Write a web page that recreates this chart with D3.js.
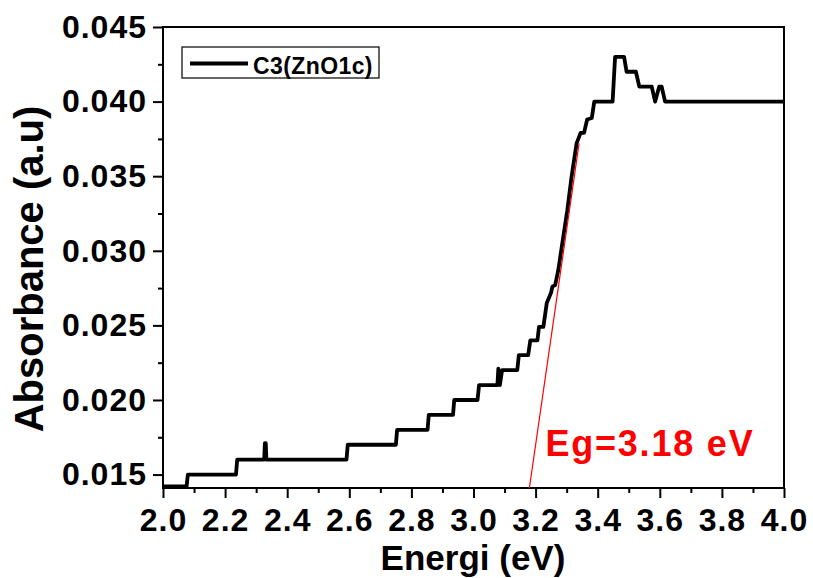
<!DOCTYPE html>
<html>
<head>
<meta charset="utf-8">
<script src="https://cdn.jsdelivr.net/npm/d3@7/dist/d3.min.js"></script>
<style>
  html, body { margin: 0; padding: 0; background: #fff; }
  svg { display: block; font-family: "Liberation Sans", Arial, Helvetica, sans-serif; font-weight: bold; }
</style>
</head>
<body>
<svg id="chart" width="813" height="578"></svg>
<script>
// Absorbance spectrum of sample C3(ZnO1c), step-like recorded trace
const energy = [
  2.000, 2.076, 2.080, 2.235, 2.239, 2.326, 2.328, 2.331, 2.333, 2.591, 2.595,
  2.750, 2.754, 2.852, 2.856, 2.934, 2.938, 3.013, 3.018, 3.077, 3.080, 3.085,
  3.092, 3.141, 3.146, 3.176, 3.183, 3.206, 3.211, 3.225, 3.236, 3.250, 3.254,
  3.263, 3.273, 3.286, 3.302, 3.316, 3.332, 3.345, 3.356, 3.366, 3.381, 3.389,
  3.448, 3.456, 3.485, 3.493, 3.523, 3.534, 3.574, 3.585, 3.598, 3.606, 3.617,
  4.000
];
const absorbance = [
  0.0142, 0.0142, 0.0150, 0.0150, 0.0160, 0.0160, 0.0171, 0.0171, 0.0160, 0.0160, 0.0170,
  0.0170, 0.0180, 0.0180, 0.0190, 0.0190, 0.0200, 0.0200, 0.0210, 0.0210, 0.0221, 0.0210,
  0.0220, 0.0220, 0.0230, 0.0230, 0.0240, 0.0240, 0.0249, 0.0249, 0.0265, 0.0272, 0.0276,
  0.0277, 0.0287, 0.0305, 0.0327, 0.0350, 0.0372, 0.0379, 0.0379, 0.0388, 0.0389, 0.0400,
  0.0400, 0.0430, 0.0430, 0.0420, 0.0420, 0.0410, 0.0410, 0.0400, 0.0410, 0.0410, 0.0400,
  0.0400
];

// Linear fit of the absorption edge, extrapolated down to the baseline
const bandGap = 3.18;
const fitEnergy = [bandGap, 3.340];
const fitAbsorbance = [0.0141, 0.0372];

const seriesName = "C3(ZnO1c)";
const xTicks = [2.0, 2.2, 2.4, 2.6, 2.8, 3.0, 3.2, 3.4, 3.6, 3.8, 4.0];
const xMinorTicks = [2.1, 2.3, 2.5, 2.7, 2.9, 3.1, 3.3, 3.5, 3.7, 3.9];
const yTicks = [0.015, 0.020, 0.025, 0.030, 0.035, 0.040, 0.045];
const yMinorTicks = [0.0175, 0.0225, 0.0275, 0.0325, 0.0375, 0.0425];
const xDomain = [2.0, 4.0];
const yDomain = [0.0141, 0.045];

const svg = d3.select("#chart");
const margin = { top: 27, right: 29, bottom: 90, left: 163 };
const W = 813, H = 578;
const iw = W - margin.left - margin.right;
const ih = H - margin.top - margin.bottom;

const x = d3.scaleLinear().domain(xDomain).range([0, iw]);
const y = d3.scaleLinear().domain(yDomain).range([ih, 0]);

const g = svg.append("g").attr("transform", `translate(${margin.left},${margin.top})`);

// minor ticks
g.append("g").attr("transform", `translate(0,${ih})`)
  .call(d3.axisBottom(x).tickValues(xMinorTicks).tickSize(5).tickSizeOuter(0).tickFormat(""))
  .call(a => a.select(".domain").remove())
  .call(a => a.selectAll("line").attr("stroke", "#000").attr("stroke-width", 2));
g.append("g")
  .call(d3.axisLeft(y).tickValues(yMinorTicks).tickSize(5).tickSizeOuter(0).tickFormat(""))
  .call(a => a.select(".domain").remove())
  .call(a => a.selectAll("line").attr("stroke", "#000").attr("stroke-width", 2));

// major axes
const xAxis = g.append("g").attr("transform", `translate(0,${ih})`)
  .call(d3.axisBottom(x).tickValues(xTicks).tickSize(10).tickSizeOuter(0).tickPadding(10)
    .tickFormat(d3.format(".1f")));
const yAxis = g.append("g")
  .call(d3.axisLeft(y).tickValues(yTicks).tickSize(10).tickSizeOuter(0).tickPadding(6)
    .tickFormat(d3.format(".3f")));

[xAxis, yAxis].forEach(a => {
  a.attr("font-family", null).attr("font-size", null);
  a.select(".domain").remove();
  a.selectAll("line").attr("stroke", "#000").attr("stroke-width", 2);
  a.selectAll("text").attr("fill", "#000")
    .style("font-size", "32px").style("font-weight", "bold").style("letter-spacing", "1px");
});

// frame
g.append("rect")
  .attr("x", 0).attr("y", 0).attr("width", iw).attr("height", ih)
  .attr("fill", "none").attr("stroke", "#000").attr("stroke-width", 2);

// data trace
const line = d3.line().x((d, i) => x(energy[i])).y((d, i) => y(absorbance[i]));
g.append("path")
  .datum(energy)
  .attr("d", line)
  .attr("fill", "none")
  .attr("stroke", "#000")
  .attr("stroke-width", 3.8)
  .attr("stroke-linejoin", "round");

// tangent fit line
const fitLine = d3.line().x((d, i) => x(fitEnergy[i])).y((d, i) => y(fitAbsorbance[i]));
g.append("path")
  .datum(fitEnergy)
  .attr("d", fitLine)
  .attr("fill", "none")
  .attr("stroke", "#ff0000")
  .attr("stroke-width", 1.2);

// band gap label
g.append("text")
  .attr("x", x(bandGap) + 16)
  .attr("y", 456 - margin.top)
  .attr("fill", "#ff0000")
  .style("font-size", "36px")
  .style("letter-spacing", "1.8px")
  .text(`Eg=${bandGap.toFixed(2)} eV`);

// legend
const leg = g.append("g").attr("transform", `translate(${182 - margin.left},${47 - margin.top})`);
leg.append("rect").attr("width", 197).attr("height", 31)
  .attr("fill", "#fff").attr("stroke", "#000").attr("stroke-width", 1.2);
leg.append("line").attr("x1", 8).attr("x2", 66).attr("y1", 16.5).attr("y2", 16.5)
  .attr("stroke", "#000").attr("stroke-width", 3.8);
leg.append("text").attr("x", 71).attr("y", 26.5)
  .style("font-size", "23px").style("letter-spacing", "0.4px")
  .attr("fill", "#000").text(seriesName);

// axis titles
svg.append("text")
  .attr("x", margin.left + iw / 2 - 0.5)
  .attr("y", 570)
  .attr("text-anchor", "middle")
  .style("font-size", "35px")
  .text("Energi (eV)");

svg.append("text")
  .attr("transform", "translate(43,269) rotate(-90)")
  .attr("text-anchor", "middle")
  .style("font-size", "40px")
  .text("Absorbance (a.u)");
</script>
</body>
</html>
